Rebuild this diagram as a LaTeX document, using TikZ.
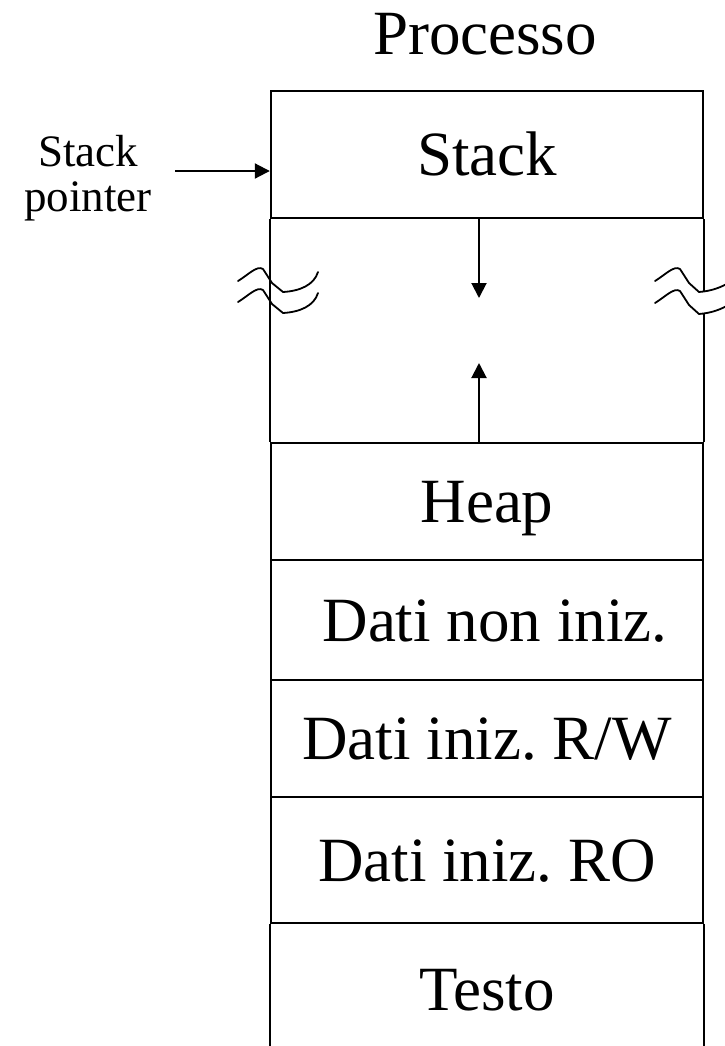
\documentclass[tikz,border=0pt]{standalone}
\usepackage{fontspec}
\setmainfont{Liberation Serif}
\usetikzlibrary{arrows.meta}
\frenchspacing
\begin{document}
\begin{tikzpicture}[x=1bp,y=-1bp,
  big/.style={font=\fontsize{63bp}{70bp}\selectfont},
  small/.style={font=\fontsize{45bp}{45bp}\selectfont, align=center, inner sep=0pt},
  frame/.style={line width=2.4bp},
  cell/.style={draw, frame, minimum width=432bp, inner sep=0pt, big,
               text height=44bp, text depth=2bp},
  ptr/.style={line width=2bp, -{Triangle[length=15bp,width=15bp]}},
  brk/.style={line width=1.8bp, line join=round, line cap=round}]
\useasboundingbox (0,0) rectangle (725,1046);

% title
\node[big, anchor=base, inner sep=0pt] (title) at (485,54) {Processo};

% memory segments
\node[cell, minimum height=127bp] (stack)   at (487,154.5) {Stack};
\node[cell, minimum height=117bp] (heap)    at (487,501.5) {Heap};
\node[cell, minimum height=120bp] (datinon) at (487,620)   {\hspace{0.25em}Dati non iniz.};
\node[cell, minimum height=117bp] (datirw)  at (487,738.5) {Dati iniz. R/W};
\node[cell, minimum height=126bp] (datiro)  at (487,860)   {Dati iniz. RO};
\node[big, anchor=base, inner sep=0pt] (testo) at (487,1010) {Testo};

% open bottom segment
\draw[frame] (datiro.south west) -- ++(0,140);
\draw[frame] (datiro.south east) -- ++(0,140);

% free space between stack and heap
\draw[frame] (stack.south west) -- (heap.north west);
\draw[frame] (stack.south east) -- (heap.north east);

% growth arrows
\coordinate (dtip) at (479,298);
\coordinate (utip) at (479,363);
\draw[ptr] (stack.south -| dtip) -- (dtip);
\draw[ptr] (heap.north -| utip) -- (utip);

% stack pointer
\node[small] (sp) at (88,178) {Stack\\pointer};
\coordinate (sptail) at (175,171);
\draw[ptr] (sptail) -- (sptail -| stack.west);

% break marks, left side
\draw[brk] (238,281) .. controls (248,275) and (257,265) .. (263,269)
  -- (272,283) -- (283,292) .. controls (300,291) and (314,285) .. (318,272);
\draw[brk] (238,302) .. controls (248,296) and (257,286) .. (263,290)
  -- (272,304) -- (283,313) .. controls (300,312) and (314,306) .. (318,293);

% break marks, right side
\fill[white] (689,283) -- (699,292) .. controls (712,291) and (722,287) .. (730,282)
  -- (730,304) .. controls (722,309) and (712,313) .. (699,314) -- (689,305) -- cycle;
\draw[brk] (655,281) .. controls (665,275) and (674,265) .. (680,269)
  -- (689,283) -- (699,292) .. controls (712,291) and (722,287) .. (730,282);
\draw[brk] (655,303) .. controls (665,297) and (674,287) .. (680,291)
  -- (689,305) -- (699,314) .. controls (712,313) and (722,309) .. (730,304);
\end{tikzpicture}
\end{document}
